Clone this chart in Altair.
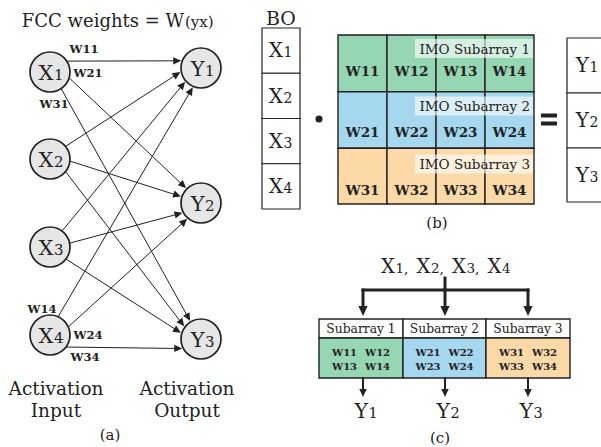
import math
import altair as alt
import pandas as pd

# ---------- labels and colours ----------
input_labels = ["X1", "X2", "X3", "X4"]
output_labels = ["Y1", "Y2", "Y3"]
weight_labels = [
    ["W11", "W12", "W13", "W14"],
    ["W21", "W22", "W23", "W24"],
    ["W31", "W32", "W33", "W34"],
]
imo_names = ["IMO Subarray 1", "IMO Subarray 2", "IMO Subarray 3"]
subarray_names = ["Subarray 1", "Subarray 2", "Subarray 3"]
subarray_colors = ["#96d6b3", "#a5d8ef", "#fdd9a8"]
panel_tags = ["(a)", "(b)", "(c)"]
title_main, title_sub = "FCC weights = W", "(yx)"
side_labels = [("Activation", "Input"), ("Activation", "Output")]
# (input, output) pairs whose weight is written next to the edge
edge_tags = [(0, 0), (0, 1), (0, 2), (3, 0), (3, 1), (3, 2)]

# ---------- drawing setup ----------
WIDTH, HEIGHT = 601, 447
FONT = "DejaVu Serif"
INK = "#222222"
NODE_FILL = "#e6e6e6"

texts, frames, veils, solids, thin, thick, heads, nodes, dots = ([] for _ in range(9))


def text(x, y, s, size, align="center", weight="normal"):
    texts.append({"x": x, "y": y, "t": s, "size": size, "align": align, "weight": weight})


def indexed(x, y, label, size, sub_size, weight="normal"):
    # letter ends at x, its index follows in a smaller size
    text(x, y, label[0], size, "right", weight)
    text(x + 0.5, y, label[1:], sub_size, "left", weight)


def frame(x0, y0, x1, y1, fill="white", sw=1.4):
    frames.append({"x": x0, "x2": x1, "y": y0, "y2": y1, "fill": fill, "sw": sw})


def arrow(x0, y0, x1, y1, head_len, store, sw):
    a = math.atan2(y1 - y0, x1 - x0)
    back = head_len * 0.6
    store.append({"x": x0, "y": y0, "x2": x1 - back * math.cos(a),
                  "y2": y1 - back * math.sin(a), "sw": sw})
    heads.append({"x": x1, "y": y1, "ang": math.degrees(a) % 360,
                  "size": (2 * head_len) ** 2})


# ---------- (a) fully connected layer ----------
IN_X, OUT_X, R = 50, 201, 20
in_y = [72, 159, 247, 335]
out_y = [68, 203, 339]
src_deg = [[-33, 17, 56], [-39, 6, 39], [-53, -11, 37], [-66, -24, 37]]
dst_deg = [[200, 225, 239], [169, 198, 217], [139, 152, 197], [113, 131, 153]]

for i in range(len(input_labels)):
    for j in range(len(output_labels)):
        s, d = math.radians(src_deg[i][j]), math.radians(dst_deg[i][j])
        arrow(IN_X + R * math.cos(s), in_y[i] + R * math.sin(s),
              OUT_X + (R + 1) * math.cos(d), out_y[j] + (R + 1) * math.sin(d),
              8, thin, 1.0)

for i, lab in enumerate(input_labels):
    nodes.append({"x": IN_X, "y": in_y[i]})
    indexed(IN_X + 3.5, in_y[i] + 7.7, lab, 21, 15)
for j, lab in enumerate(output_labels):
    nodes.append({"x": OUT_X, "y": out_y[j]})
    indexed(OUT_X + 3.5, out_y[j] + 7.7, lab, 21, 15)

tag_pos = [(84, 53), (88, 77), (54, 108), (42, 313), (88, 339), (85, 361)]
for (i, j), (tx, ty) in zip(edge_tags, tag_pos):
    text(tx, ty, weight_labels[j][i], 11.5, weight="bold")

text(184, 27, title_main, 18, "right")
text(185, 27, title_sub, 15, "left")
for (top, bottom), cx in zip(side_labels, [56, 187]):
    text(cx, 395, top, 18.5)
    text(cx, 417, bottom, 18.5)
text(110, 440, panel_tags[0], 15)

# ---------- (b) matrix-vector product ----------
text(281, 25, "BO", 19)
bo_rows = [28, 73.25, 118.5, 163.75, 209]
for k, lab in enumerate(input_labels):
    frame(262, bo_rows[k], 300, bo_rows[k + 1], sw=1.2)
    indexed(283, (bo_rows[k] + bo_rows[k + 1]) / 2 + 6.8, lab, 20, 14)

dots.append({"x": 319, "y": 119})

mat_cols = [338, 387, 436, 485, 534]
mat_rows = [35, 91.7, 148.3, 204]
w_base = [75.7, 136.7, 195]
for r, row in enumerate(weight_labels):
    for c, lab in enumerate(row):
        frame(mat_cols[c], mat_rows[r], mat_cols[c + 1], mat_rows[r + 1],
              fill=subarray_colors[r], sw=1.4)
        text((mat_cols[c] + mat_cols[c + 1]) / 2, w_base[r], lab, 13.5, weight="bold")
imo_mid = [48.5, 106, 164]
for r, name in enumerate(imo_names):
    veils.append({"x": 415, "x2": 533, "y": imo_mid[r] - 9.5, "y2": imo_mid[r] + 9.5})
    text(530, imo_mid[r] + 5, name, 13.5, "right")

# equals sign
solids.append({"x": 541, "x2": 557, "y": 113.5, "y2": 117.5})
solids.append({"x": 541, "x2": 557, "y": 121.5, "y2": 125.5})

y_rows = [38, 93, 148, 202]
for k, lab in enumerate(output_labels):
    frame(567, y_rows[k], 607, y_rows[k + 1], sw=1.2)
    indexed(589, (y_rows[k] + y_rows[k + 1]) / 2 + 6.8, lab, 20, 14)
text(437, 228, panel_tags[1], 15)

# ---------- (c) subarray mapping ----------
x_right = [395, 430.5, 466, 501.5]
for k, lab in enumerate(input_labels):
    suffix = lab[1:] + ("," if k < len(input_labels) - 1 else "")
    text(x_right[k], 273, lab[0], 19.5, "right")
    text(x_right[k] + 0.5, 273, suffix, 13.5, "left")

tab_cols = [319, 403, 486, 570]
centers = [363, 445, 528]
thick.append({"x": 445, "y": 278, "x2": 445, "y2": 290, "sw": 3})
thick.append({"x": centers[0], "y": 290, "x2": centers[-1], "y2": 290, "sw": 3})
for cx in centers:
    arrow(cx, 290, cx, 316, 10, thick, 3)

for k, name in enumerate(subarray_names):
    x0, x1 = tab_cols[k], tab_cols[k + 1]
    mid = (x0 + x1) / 2
    frame(x0, 319, x1, 338, sw=1.4)
    frame(x0, 338, x1, 378, fill=subarray_colors[k], sw=1.4)
    text(mid, 333, name, 12.3)
    row = weight_labels[k]
    for n, lab in enumerate(row):
        text(mid + (-16.5 if n % 2 == 0 else 16.5), 355.5 + 14 * (n // 2), lab, 10, weight="bold")
    arrow(centers[k], 378, centers[k], 397, 8, thick, 2)
    indexed(centers[k] + 5, 418, output_labels[k], 20.5, 14.5)
text(440, 443, panel_tags[2], 15)

# ---------- chart ----------
xs = alt.Scale(domain=[0, WIDTH], nice=False, zero=False)
ys = alt.Scale(domain=[0, HEIGHT], nice=False, zero=False, reverse=True)
X = alt.X("x:Q", scale=xs, axis=None)
Y = alt.Y("y:Q", scale=ys, axis=None)

layers = [
    alt.Chart(pd.DataFrame(frames)).mark_rect(stroke=INK).encode(
        x=X, x2="x2:Q", y=Y, y2="y2:Q",
        fill=alt.Fill("fill:N", scale=None),
        strokeWidth=alt.StrokeWidth("sw:Q", scale=None)),
    alt.Chart(pd.DataFrame(veils)).mark_rect(fill="white", opacity=0.6).encode(
        x=X, x2="x2:Q", y=Y, y2="y2:Q"),
    alt.Chart(pd.DataFrame(solids)).mark_rect(fill=INK).encode(
        x=X, x2="x2:Q", y=Y, y2="y2:Q"),
    alt.Chart(pd.DataFrame(thin)).mark_rule(color=INK).encode(
        x=X, x2="x2:Q", y=Y, y2="y2:Q",
        strokeWidth=alt.StrokeWidth("sw:Q", scale=None)),
    alt.Chart(pd.DataFrame(thick)).mark_rule(color=INK, strokeCap="square").encode(
        x=X, x2="x2:Q", y=Y, y2="y2:Q",
        strokeWidth=alt.StrokeWidth("sw:Q", scale=None)),
    alt.Chart(pd.DataFrame(heads)).mark_point(
        shape="M0,0L-1,-0.46L-1,0.46Z", filled=True, color=INK, opacity=1).encode(
        x=X, y=Y, angle=alt.Angle("ang:Q", scale=None),
        size=alt.Size("size:Q", scale=None)),
    alt.Chart(pd.DataFrame(nodes)).mark_point(
        shape="circle", filled=True, fill=NODE_FILL, stroke=INK, strokeWidth=1.7,
        size=1600, opacity=1).encode(x=X, y=Y),
    alt.Chart(pd.DataFrame(dots)).mark_point(
        shape="circle", filled=True, color=INK, size=50, opacity=1).encode(x=X, y=Y),
]

tdf = pd.DataFrame(texts)
for (align, weight), grp in tdf.groupby(["align", "weight"]):
    layers.append(
        alt.Chart(grp).mark_text(align=align, baseline="alphabetic", font=FONT,
                                 fontWeight=weight, color=INK).encode(
            x=X, y=Y, text=alt.Text("t:N"), size=alt.Size("size:Q", scale=None)))

chart = alt.layer(*layers).properties(
    width=WIDTH, height=HEIGHT, padding=0,
    autosize=alt.AutoSizeParams(type="none"),
    background="white",
).configure_view(strokeWidth=0)

chart.save("out.html", embed_options={"renderer": "svg", "actions": False})
